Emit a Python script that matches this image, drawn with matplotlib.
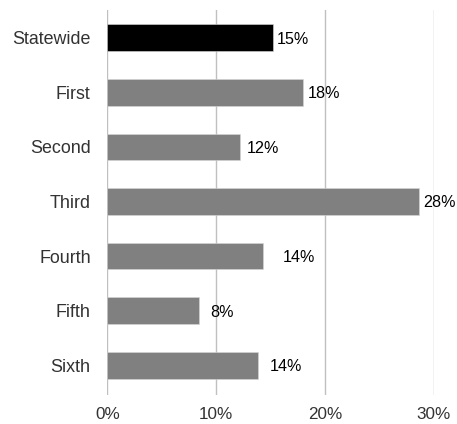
import numpy as np
import matplotlib
matplotlib.use("Agg")
import matplotlib.pyplot as plt

plt.rcParams['font.family'] = ['Liberation Sans', 'DejaVu Sans']

# data
districts = ['Statewide', 'First', 'Second', 'Third', 'Fourth', 'Fifth', 'Sixth']
values = [15.2, 18.0, 12.2, 28.6, 14.3, 8.4, 13.8]
labels = ['15%', '18%', '12%', '28%', '14%', '8%', '14%']
ticks = [0, 10, 20, 30]
tick_labels = ['0%', '10%', '20%', '30%']

# label gaps (points) as placed in the original
label_gap = [3, 3, 5, 3, 14, 8, 9]
colors = ['#000000'] + ['#808080'] * 6

fig = plt.figure(figsize=(4.57, 4.24), dpi=100)
ax = fig.add_axes([0.2348, 0.0684, 0.7149, 0.9080])

y = np.arange(len(districts))
bars = ax.barh(y, values, height=0.49, color=colors, edgecolor='#d8d8d8',
               linewidth=0.4, zorder=3)

for i in range(len(values)):
    ax.annotate(labels[i], xy=(values[i], y[i]), xytext=(label_gap[i], -1),
                textcoords='offset points', va='center', ha='left',
                fontsize=11.6, color='#000000', zorder=4)

ax.set_xlim(0, 30)
ax.set_ylim(6.544, -0.507)
ax.set_xticks(ticks)
ax.set_xticklabels(tick_labels)
ax.set_yticks(y)
ax.set_yticklabels(districts)
ax.tick_params(axis='both', length=0, labelcolor='#333333')
ax.tick_params(axis='x', pad=9, labelsize=12.3)
ax.tick_params(axis='y', pad=12, labelsize=12.9)

ax.grid(axis='x', color='#c0c0c0', linewidth=1.0, zorder=0)
ax.set_axisbelow(True)
for s in ax.spines.values():
    s.set_visible(False)

fig.savefig('out.png', dpi=100)
